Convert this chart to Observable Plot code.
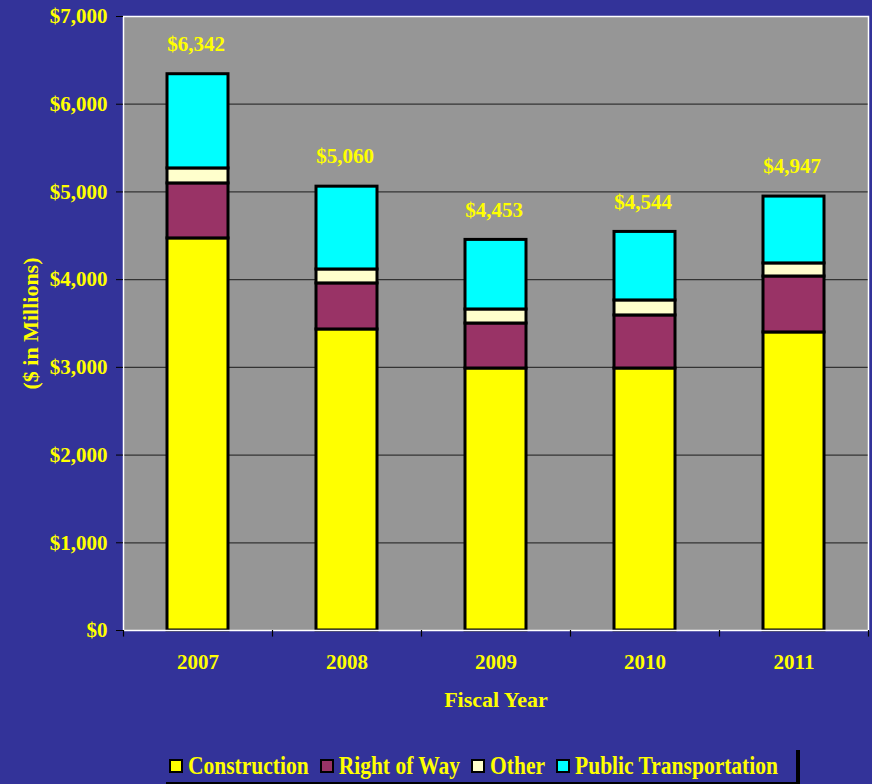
<!DOCTYPE html>
<html>
<head>
<meta charset="utf-8">
<script src="https://cdn.jsdelivr.net/npm/d3@7"></script>
<script src="https://cdn.jsdelivr.net/npm/@observablehq/plot@0.6"></script>
<style>
  html, body { margin: 0; padding: 0; background: #333399; width: 872px; height: 784px; overflow: hidden; }
  #wrap { position: relative; width: 872px; height: 784px; font-family: "Liberation Serif", "Times New Roman", serif; font-weight: bold; color: #FFFF00; }
  #legend { position: absolute; left: 166px; top: 750px; width: 634px; height: 34px; border-right: 4px solid #000; border-bottom: 2px solid #000;
            display: flex; align-items: center; font-size: 21.5px; padding-left: 3px; box-sizing: border-box; }
  .item { display: flex; align-items: center; margin-right: 11px; white-space: nowrap; }
  .item span { display: inline-block; transform: scaleY(1.15); }
  .sw { width: 10px; height: 10px; border: 2px solid #000; margin-right: 5px; }
</style>
</head>
<body>
<div id="wrap">
  <div id="chart"></div>
  <div id="legend"></div>
</div>
<script>
const years = ["2007", "2008", "2009", "2010", "2011"];
const categories = ["Construction", "Right of Way", "Other", "Public Transportation"];
const colors = ["#FFFF00", "#993366", "#FFFFCC", "#00FFFF"];
const construction = [4470, 3432, 2987, 2987, 3398];
const rightOfWay = [627, 525, 513, 605, 638];
const other = [171, 159, 160, 171, 149];
const publicTransportation = [1074, 944, 793, 781, 762];
const totals = [6342, 5060, 4453, 4544, 4947];
const yTicks = [0, 1000, 2000, 3000, 4000, 5000, 6000, 7000];
const gridTicks = [1000, 2000, 3000, 4000, 5000, 6000];
const yTitle = "($ in Millions)";
const xTitle = "Fiscal Year";

const series = [construction, rightOfWay, other, publicTransportation];
const rows = [];
categories.forEach((c, ci) => years.forEach((y, yi) => rows.push({year: y, category: c, value: series[ci][yi]})));
const totalRows = years.map((y, i) => ({year: y, total: totals[i]}));

const W = 872, H = 748, mL = 123, mR = 4, mT = 16, mB = 118;
const step = (W - mL - mR) / years.length;
const fmt = d => "$" + d3.format(",")(d);

const chart = Plot.plot({
  width: W, height: H,
  marginLeft: mL, marginRight: mR, marginTop: mT, marginBottom: mB,
  style: {background: "#333399", color: "#FFFF00", fontFamily: "'Liberation Serif', 'Times New Roman', serif", fontWeight: "bold", fontSize: "21px", overflow: "visible"},
  x: {domain: years, paddingInner: 0.59, paddingOuter: 0.295},
  y: {domain: [0, 7000]},
  color: {domain: categories, range: colors},
  marks: [
    Plot.frame({fill: "#969696", stroke: null}),
    Plot.gridY(gridTicks, {stroke: "#333", strokeOpacity: 1, strokeWidth: 1.3}),
    Plot.barY(rows, {x: "year", y: "value", fill: "category", stroke: "black", strokeWidth: 3}),
    Plot.frame({stroke: "white", strokeWidth: 1.5}),
    Plot.axisY(yTicks, {tickFormat: fmt, tickSize: 7, tickPadding: 9, stroke: "black", fill: "#FFFF00", fontSize: 21, fontWeight: "bold", label: null}),
    Plot.axisX({tickSize: 0, tickPadding: 24, fill: "#FFFF00", fontSize: 21, fontWeight: "bold", label: null}),
    Plot.ruleX(years, {x: d => d, dx: -step / 2, y1: 0, y2: -75, stroke: "black", strokeWidth: 1.2, clip: false}),
    Plot.ruleX(years.slice(-1), {x: d => d, dx: step / 2, y1: 0, y2: -75, stroke: "black", strokeWidth: 1.2, clip: false}),
    Plot.text(totalRows, {x: "year", y: "total", text: d => fmt(d.total), dx: -2, dy: -30, fill: "#FFFF00", fontSize: 21, fontWeight: "bold"}),
    Plot.text([yTitle], {frameAnchor: "left", textAnchor: "middle", dx: -93, rotate: -90, text: d => d, fill: "#FFFF00", fontSize: 22, fontWeight: "bold"}),
    Plot.text([xTitle], {frameAnchor: "bottom", dy: 76, text: d => d, fill: "#FFFF00", fontSize: 22, fontWeight: "bold"})
  ]
});
document.getElementById("chart").appendChild(chart);

const legend = document.getElementById("legend");
categories.forEach((c, i) => {
  const item = document.createElement("div");
  item.className = "item";
  const sw = document.createElement("div");
  sw.className = "sw";
  sw.style.background = colors[i];
  const t = document.createElement("span");
  t.textContent = c;
  item.appendChild(sw);
  item.appendChild(t);
  legend.appendChild(item);
});
</script>
</body>
</html>
